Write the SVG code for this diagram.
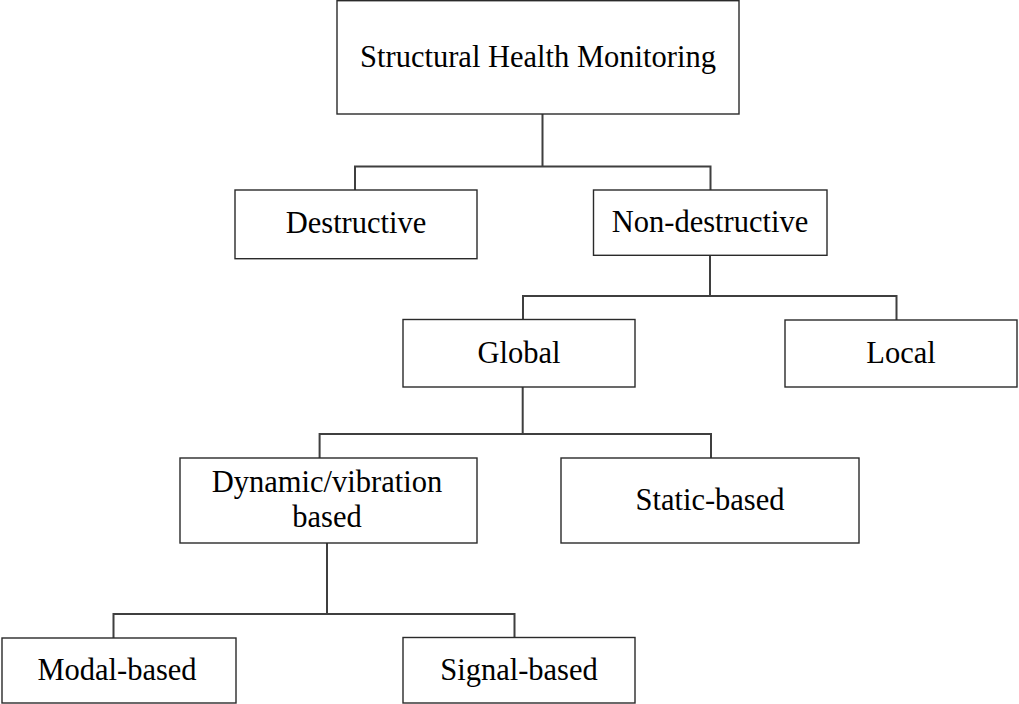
<svg xmlns="http://www.w3.org/2000/svg" width="1019" height="704" viewBox="0 0 1019 704">
<style>
  .box { fill: #ffffff; stroke: #2a2a2a; stroke-width: 1.4; }
  .lbl { font-family: "Liberation Serif", "Times New Roman", serif; font-size: 30.5px; fill: #000000; text-anchor: middle; }
  .conn { fill: none; stroke: #3f3f3f; stroke-width: 2; }
</style>
<rect width="1019" height="704" fill="#ffffff"/>
<g id="connectors">
  <path class="conn" d="M542.5,114 V166.5 M355,190 V166.5 H710.5 V190"/>
  <path class="conn" d="M710,255 V296 M523,319.5 V296 H896.5 V320"/>
  <path class="conn" d="M522.7,387 V434 M319.6,458 V434 H711 V458"/>
  <path class="conn" d="M327,543 V614 M113.5,638 V614 H514.5 V637.5"/>
</g>
<g id="shm">
  <rect class="box" x="337" y="0.7" width="402" height="113.3"/>
  <text class="lbl" x="538" y="67">Structural Health Monitoring</text>
</g>
<g id="destructive">
  <rect class="box" x="235" y="190" width="242" height="68.7"/>
  <text class="lbl" x="356" y="233">Destructive</text>
</g>
<g id="non-destructive">
  <rect class="box" x="593.5" y="190" width="233.5" height="65.3"/>
  <text class="lbl" x="710" y="232">Non-destructive</text>
</g>
<g id="global">
  <rect class="box" x="403" y="319.5" width="232" height="67.5"/>
  <text class="lbl" x="519" y="363">Global</text>
</g>
<g id="local">
  <rect class="box" x="785" y="320" width="232" height="67"/>
  <text class="lbl" x="901" y="362.5">Local</text>
</g>
<g id="dynamic">
  <rect class="box" x="180" y="458" width="297" height="85"/>
  <text class="lbl" x="327" y="492">Dynamic/vibration</text>
  <text class="lbl" x="327" y="527">based</text>
</g>
<g id="static">
  <rect class="box" x="561" y="458" width="298" height="85"/>
  <text class="lbl" x="710" y="510">Static-based</text>
</g>
<g id="modal">
  <rect class="box" x="2" y="638" width="234" height="65"/>
  <text class="lbl" x="117" y="680">Modal-based</text>
</g>
<g id="signal">
  <rect class="box" x="403" y="637.5" width="232" height="65.5"/>
  <text class="lbl" x="519" y="680">Signal-based</text>
</g>
</svg>
